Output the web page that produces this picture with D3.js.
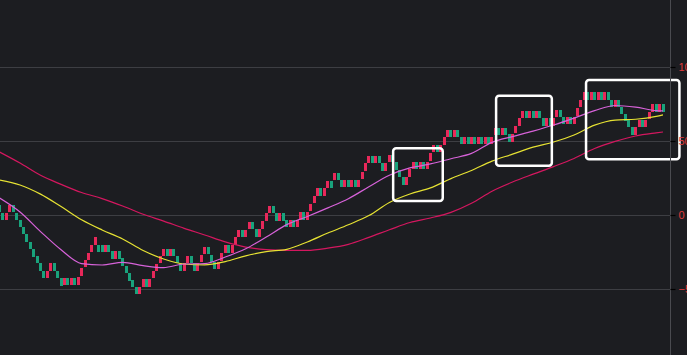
<!DOCTYPE html>
<html><head><meta charset="utf-8">
<script src="https://cdn.jsdelivr.net/npm/d3@7/dist/d3.min.js"></script>
<style>html,body{margin:0;padding:0;background:#1c1d21;overflow:hidden}</style>
</head><body><svg id="c" width="687" height="355"></svg>
<script>
// brick top values (x10 units) and direction (R = up, G = down)
const brickTop = [
 6.8,1.6,1.6,6.8,6.8,1.6,-3.4,-7.9,-13.1,-18.0,
 -23.2,-27.7,-32.7,-37.8,-37.8,-32.7,-32.7,-37.8,-42.8,-42.5,
 -42.5,-42.5,-42.5,-42.2,-36.0,-30.4,-25.5,-20.3,-15.1,-20.0,
 -20.0,-20.0,-20.0,-24.5,-24.5,-24.5,-29.3,-34.5,-39.4,-43.9,
 -48.4,-48.4,-43.5,-43.5,-43.5,-37.8,-33.1,-27.7,-23.0,-23.0,
 -22.7,-22.7,-27.7,-32.7,-32.7,-27.5,-27.5,-32.7,-32.7,-27.0,
 -21.4,-21.4,-27.0,-31.5,-31.5,-25.9,-20.5,-20.5,-20.5,-15.1,
 -10.1,-10.1,-10.1,-4.5,-4.5,-9.7,-9.7,-4.3,1.1,6.1,
 6.1,1.1,1.1,1.1,-3.4,-3.4,-3.4,-3.4,1.8,1.8,
 1.8,7.4,13.1,18.0,18.0,18.0,23.0,23.0,28.6,28.6,
 23.6,23.6,23.6,23.6,23.6,23.6,29.2,34.9,39.9,39.9,
 39.9,39.9,34.9,34.9,40.5,40.5,35.6,30.4,25.5,25.5,
 30.9,36.0,36.0,36.0,36.0,36.0,41.7,47.3,47.3,47.3,
 52.5,57.4,57.4,57.4,57.4,53.0,53.0,53.0,53.0,53.0,
 53.0,53.0,53.0,53.0,53.0,59.0,59.0,59.0,59.0,54.5,
 54.5,60.1,65.3,70.3,70.3,70.3,70.3,70.3,70.3,65.3,
 65.3,65.3,65.3,70.9,70.9,66.4,66.4,66.4,66.4,72.0,
 77.7,82.9,82.9,82.9,82.9,82.9,82.9,82.9,82.9,78.0,
 78.0,78.0,73.3,68.5,64.2,59.2,59.2,64.2,64.2,64.2,
 69.6,74.8,74.8,74.8,74.8
];
const brickDir = (
 "GGRRGGGGGG"+"GGGGRRGGGR"+"GRGRRRRRRG"+"GRGGRGGGGG"+"GRRGRRRRRG"+
 "RGGGRRGGRR"+"RGGGRRRGRR"+"RGRRGGRRRR"+"GGRGGRGRRG"+"RRRRGRRGRG"+
 "GRGRGRRRRG"+"RGGRRGGGGR"+"RRGRGRRRGR"+"RRGRGGRGRG"+"RGRGRRGRGG"+
 "RRRRGRGRGG"+"RGRRGGRGRR"+"RRGRGRGRGG"+"RGGGGGRRGR"+"RRGRG").split("");
const brickSize = 5;

// moving averages, read at every 6th candle
const maIndex = [0,6,12,18,24,30,36,42,48,54,60,66,72,78,84,90,96,102,108,114,120,126,132,138,144,150,156,162,168,174,180,186,192,194];
const maFast = [11.5,2.0,-11.2,-23.5,-32.8,-33.8,-32.0,-34.2,-35.5,-33.1,-32.8,-28.4,-22.8,-14.9,-6.5,-1.0,4.8,11.0,19.1,26.9,31.8,34.5,38.0,41.6,49.1,53.0,56.7,60.8,65.5,70.5,74.0,72.9,70.5,70.3];
const maMid = [23.7,20.3,14.1,5.7,-3.2,-10.1,-16.2,-24.0,-29.7,-33.1,-33.7,-31.5,-27.6,-24.7,-23.2,-18.2,-12.2,-6.6,-0.4,8.5,14.2,18.3,24.6,30.1,36.4,41.1,45.9,49.3,54.1,60.7,64.1,64.7,66.6,67.6];
const maSlow = [42.6,35.1,26.8,20.7,15.2,11.1,6.1,0.5,-4.1,-9.0,-13.5,-18.2,-21.7,-23.4,-23.9,-23.9,-22.4,-19.8,-15.1,-10.0,-5.1,-2.0,1.8,7.9,16.1,22.3,27.6,32.7,38.2,44.9,49.7,53.4,55.5,56.1];

const yTicks = [100, 50, 0, -50];
// highlight boxes: [fromIndex, toIndex, topValue, bottomValue]
const boxes = [[115.1,129.6,45.1,9.5],[145.2,161.5,80.6,33.3],[171.5,198.8,91.2,37.6]];

const W = 687, H = 355, plotRight = 670.5;
const svg = d3.select("#c");
svg.append("rect").attr("width",W).attr("height",H).attr("fill","#1c1d21");

const x = d3.scaleLinear().domain([0,194]).range([-0.5,663]);
const y = d3.scaleLinear().domain([-50,100]).range([289,67]);

svg.append("defs").append("clipPath").attr("id","clip")
  .append("rect").attr("x",0).attr("y",0).attr("width",plotRight).attr("height",H);

// grid
svg.append("g").selectAll("line").data(yTicks).join("line")
  .attr("x1",0).attr("x2",plotRight)
  .attr("y1",d=>Math.round(y(d))+0.5).attr("y2",d=>Math.round(y(d))+0.5)
  .attr("stroke","#3d3e43").attr("stroke-width",1);

const plot = svg.append("g").attr("clip-path","url(#clip)");

// candles
const candles = brickTop.map((t,i)=>({i, top:t, bot:t-brickSize, up: brickDir[i]==="R"}));
plot.append("g").attr("shape-rendering","crispEdges").selectAll("rect").data(candles).join("rect")
  .attr("x",d=>Math.round(x(d.i)-1.5)).attr("width",3)
  .attr("y",d=>Math.round(y(d.top))).attr("height",d=>Math.round(y(d.bot))-Math.round(y(d.top)))
  .attr("fill",d=>d.up?"#e8285a":"#19a27c");

// moving averages
const lines = [[maSlow,"#d4175f"],[maMid,"#e6e233"],[maFast,"#d762d9"]];
const lineGen = d3.line().x(d=>x(d[0])).y(d=>y(d[1])).curve(d3.curveMonotoneX);
lines.forEach(([vals,col])=>{
  plot.append("path").datum(maIndex.map((k,j)=>[k,vals[j]]))
    .attr("d",lineGen).attr("fill","none").attr("stroke",col).attr("stroke-width",1.2);
});

// highlight boxes
svg.append("g").selectAll("rect").data(boxes).join("rect")
  .attr("x",d=>x(d[0])).attr("y",d=>y(d[2]))
  .attr("width",d=>x(d[1])-x(d[0])).attr("height",d=>y(d[3])-y(d[2]))
  .attr("rx",3).attr("ry",3)
  .attr("fill","none").attr("stroke","#ffffff").attr("stroke-width",2.5);

// axis
svg.append("line").attr("x1",plotRight).attr("x2",plotRight).attr("y1",0).attr("y2",H)
  .attr("stroke","#4a4b50").attr("stroke-width",1);
const ax = svg.append("g").attr("transform",`translate(${plotRight},0)`)
  .call(d3.axisRight(y).tickValues(yTicks).tickSize(5).tickPadding(3).tickFormat(d3.format("d")));
ax.select(".domain").remove();
ax.selectAll(".tick line").attr("stroke","#000").attr("stroke-width",1.2);
ax.selectAll(".tick text").attr("fill","#e03a3a").attr("font-size","11px")
  .attr("font-family","'Liberation Sans', Arial, sans-serif");
</script></body></html>
